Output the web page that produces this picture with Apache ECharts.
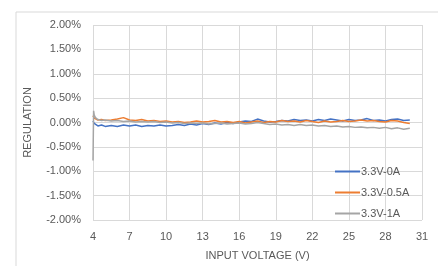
<!DOCTYPE html>
<html>
<head>
    <meta charset="utf-8">
    <title>Regulation vs Input Voltage</title>
    <style>
        html, body { margin: 0; padding: 0; background: #fff; }
        #chart { width: 438px; height: 266px; }
    </style>
</head>
<body>
    <div id="chart"></div>
    <script src="https://cdn.jsdelivr.net/npm/echarts@6/dist/echarts.min.js"></script>
    <script>
        // input voltage samples (V)
        const voltages = [4, 4.05, 4.1, 4.2, 4.4, 4.7, 5, 5.5, 6, 6.5, 7, 7.5, 8, 8.5, 9, 9.5, 10, 10.5, 11, 11.5,
            12, 12.5, 13, 13.5, 14, 14.5, 15, 15.5, 16, 16.5, 17, 17.5, 18, 18.5, 19, 19.5, 20, 20.5, 21, 21.5,
            22, 22.5, 23, 23.5, 24, 24.5, 25, 25.5, 26, 26.5, 27, 27.5, 28, 28.5, 29, 29.5, 30];
        // regulation in %
        const reg0A = [0.03, 0.02, -0.02, -0.05, -0.07, -0.05, -0.08, -0.06, -0.08, -0.05, -0.07, -0.05, -0.08, -0.06, -0.07, -0.05, -0.07, -0.06, -0.04, -0.06,
            -0.03, -0.05, -0.02, -0.04, -0.01, -0.03, 0.0, -0.02, 0.01, 0.03, 0.02, 0.07, 0.03, 0.01, 0.02, 0.04, 0.03, 0.06, 0.04, 0.05,
            0.03, 0.06, 0.04, 0.07, 0.05, 0.03, 0.06, 0.04, 0.05, 0.08, 0.04, 0.05, 0.03, 0.06, 0.07, 0.04, 0.05];
        const reg05A = [0.14, 0.12, 0.09, 0.07, 0.05, 0.06, 0.04, 0.05, 0.07, 0.1, 0.05, 0.04, 0.06, 0.03, 0.04, 0.02, 0.03, 0.01, 0.02, 0.0,
            0.01, 0.03, 0.01, 0.02, 0.04, 0.01, 0.02, 0.0, 0.02, -0.01, 0.01, 0.03, 0.0, 0.02, 0.01, 0.04, 0.02, 0.03, 0.01, 0.04,
            0.02, 0.0, 0.03, 0.01, 0.02, 0.04, 0.02, 0.03, 0.05, 0.03, 0.04, 0.02, 0.01, 0.04, 0.03, 0.0, -0.02];
        const reg1A = [-0.78, 0.24, 0.15, 0.1, 0.06, 0.04, 0.05, 0.03, 0.04, 0.02, 0.03, 0.01, 0.02, 0.01, 0.02, 0.0, 0.01, -0.01, 0.0, -0.02,
            -0.01, -0.02, -0.01, -0.03, -0.02, -0.01, -0.03, -0.02, -0.01, -0.03, -0.02, 0.0, -0.02, -0.04, -0.03, -0.05, -0.04, -0.06, -0.04, -0.06,
            -0.05, -0.07, -0.06, -0.08, -0.07, -0.09, -0.08, -0.1, -0.09, -0.11, -0.1, -0.12, -0.1, -0.13, -0.11, -0.14, -0.12];

        const seriesNames = ['3.3V-0A', '3.3V-0.5A', '3.3V-1A'];
        const colors = ['#4472C4', '#ED7D31', '#A5A5A5'];
        const allData = [reg0A, reg05A, reg1A];

        const font = '"Liberation Sans", Arial, sans-serif';
        const chart = echarts.init(document.getElementById('chart'));

        chart.setOption({
            animation: false,
            graphic: [{
                type: 'rect',
                shape: { x: 16, y: 12, width: 440, height: 280 },
                style: { fill: 'none', stroke: '#d9d9d9', lineWidth: 1 }
            }],
            grid: { left: 93, right: 16, top: 25, bottom: 40 },
            legend: {
                orient: 'vertical',
                left: 330,
                top: 161,
                icon: 'rect',
                itemWidth: 25,
                itemHeight: 2,
                itemGap: 10,
                data: seriesNames,
                textStyle: { fontFamily: font, fontSize: 11, color: '#595959', padding: [0, 0, 0, -4] }
            },
            xAxis: {
                type: 'value',
                min: 4, max: 31, interval: 3,
                name: 'INPUT VOLTAGE (V)',
                nameLocation: 'middle',
                nameGap: 30,
                nameTextStyle: { fontFamily: font, fontSize: 11, color: '#595959' },
                axisLine: { show: false },
                axisTick: { show: false },
                axisLabel: { fontFamily: font, fontSize: 11, color: '#595959', margin: 11 },
                splitLine: { lineStyle: { color: '#d9d9d9' } }
            },
            yAxis: {
                type: 'value',
                min: -2, max: 2, interval: 0.5,
                name: 'REGULATION',
                nameLocation: 'middle',
                nameGap: 60,
                nameTextStyle: { fontFamily: font, fontSize: 11, color: '#595959' },
                axisLine: { show: false },
                axisTick: { show: false },
                axisLabel: {
                    fontFamily: font, fontSize: 11, color: '#595959', margin: 12,
                    formatter: v => v.toFixed(2) + '%'
                },
                splitLine: { lineStyle: { color: '#d9d9d9' } }
            },
            series: seriesNames.map((name, i) => ({
                name: name,
                type: 'line',
                data: voltages.map((v, j) => [v, allData[i][j]]),
                showSymbol: false,
                lineStyle: { color: colors[i], width: 1.5 },
                itemStyle: { color: colors[i] }
            }))
        });
    </script>
</body>
</html>
